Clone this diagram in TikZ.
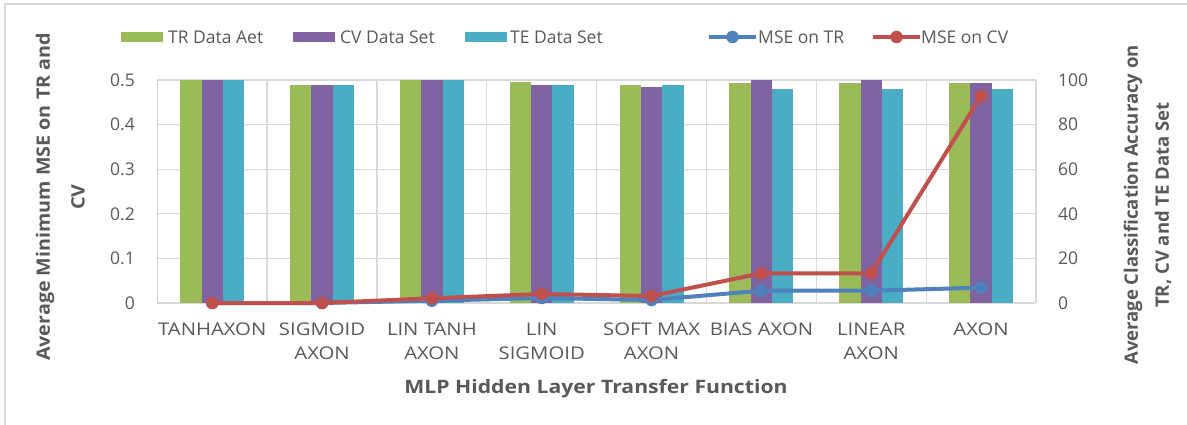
\documentclass[tikz,border=0pt]{standalone}
\usepackage{fontspec}
\setmainfont{Open Sans}
\usetikzlibrary{calc}
\definecolor{cgreen}{HTML}{9BBB59}
\definecolor{cpurple}{HTML}{8064A2}
\definecolor{cteal}{HTML}{4BACC6}
\definecolor{cblue}{HTML}{4F81BD}
\definecolor{cred}{HTML}{C0504D}
\definecolor{cgrid}{HTML}{D9D9D9}
\definecolor{ctext}{HTML}{595959}
\definecolor{cframe}{HTML}{D9D9D9}
\newcommand{\hstretch}[2]{\scalebox{#1}[1]{#2}}
\tikzset{
  gridline/.style={draw=cgrid, line width=1.3},
  txt/.style={text=ctext, inner sep=0pt, font=\fontsize{17.5}{21}\selectfont},
  ticklbl/.style={txt, font=\fontsize{17.5}{21}\selectfont},
  axtitle/.style={text=ctext, inner sep=0pt, font=\bfseries\fontsize{18.5}{22}\selectfont},
  barG/.style={fill=cgreen},
  barP/.style={fill=cpurple},
  barT/.style={fill=cteal},
  serTR/.style={draw=cblue, line width=4, line join=round},
  serCV/.style={draw=cred, line width=4, line join=round},
  dotTR/.style={circle, fill=cblue, inner sep=0pt, minimum size=12.5},
  dotCV/.style={circle, fill=cred, inner sep=0pt, minimum size=12.5},
}
\begin{document}
\begin{tikzpicture}[x=1pt,y=-1pt]
\useasboundingbox (0,0) rectangle (1187,425);
\fill[white] (0,0) rectangle (1187,425);
\draw[cframe, line width=2] (5,425) -- (5,4) -- (1187,4);
% grid
\foreach \k in {0,...,5} {
  \draw[gridline] (157.3,{303-\k*44.6}) -- (1036,{303-\k*44.6});
}
\foreach \i in {0,...,8} {
  \draw[gridline] ({157.3+\i*109.84},80) -- ({157.3+\i*109.84},303);
}
% bars
\foreach \i/\g/\p/\t in {1/100/100/100, 2/97.8/97.8/97.8, 3/100/100/100, 4/99.1/97.8/97.8,
  5/97.8/97.0/97.8, 6/98.8/100/95.8, 7/98.8/100/95.8, 8/98.8/98.8/95.8} {
  \pgfmathsetmacro{\cx}{157.3+(\i-0.5)*109.84}
  \fill[barG] ({\cx-32},303) rectangle ({\cx-10.7},{303-\g*2.23});
  \fill[barP] ({\cx-10.7},303) rectangle ({\cx+10.7},{303-\p*2.23});
  \fill[barT] ({\cx+10.7},303) rectangle ({\cx+32},{303-\t*2.23});
}
% series coordinates
\foreach \i/\b/\r in {1/303/303, 2/303/303, 3/300.7/298.3, 4/298/294, 5/300/296,
  6/290.7/273.3, 7/290.7/273.3, 8/287.7/96} {
  \coordinate (b\i) at ({157.3+(\i-0.5)*109.84},\b);
  \coordinate (r\i) at ({157.3+(\i-0.5)*109.84},\r);
}
\draw[serTR] (b1) -- (b2) -- (b3) -- (b4) -- (b5) -- (b6) -- (b7) -- (b8);
\foreach \i in {1,...,8} { \node[dotTR] (mb\i) at (b\i) {}; }
\draw[serCV] (r1) -- (r2) -- (r3) -- (r4) -- (r5) -- (r6) -- (r7) -- (r8);
\foreach \i in {1,...,8} { \node[dotCV] (mr\i) at (r\i) {}; }
% left ticks
\foreach \k/\l in {0/0, 1/0.1, 2/0.2, 3/0.3, 4/0.4, 5/0.5} {
  \node[ticklbl, anchor=east] (lt\k) at (135,{303-\k*44.6}) {\l};
}
% right ticks
\foreach \k/\l in {0/0, 1/20, 2/40, 3/60, 4/80, 5/100} {
  \node[ticklbl, anchor=west] (rt\k) at (1058,{303-\k*44.6}) {\l};
}
% category labels
\foreach \i/\a/\b in {1/TANHAXON/, 2/SIGMOID/AXON, 3/LIN TANH/AXON, 4/LIN/SIGMOID,
  5/SOFT MAX/AXON, 6/BIAS AXON/, 7/LINEAR/AXON, 8/AXON/} {
  \node[txt, anchor=base] (ca\i) at ({157.3+(\i-0.5)*109.84},335.5) {\hstretch{1.16}{\a}};
  \node[txt, anchor=base] (cb\i) at ({157.3+(\i-0.5)*109.84},359.5) {\hstretch{1.16}{\b}};
}
% axis titles
\node[axtitle, anchor=base] (xt) at (596,393) {\hstretch{1.145}{MLP Hidden Layer Transfer Function}};
\node[axtitle, rotate=90] (yl1) at (45,197) {\hstretch{1.065}{Average Minimum MSE on TR and}};
\node[axtitle, rotate=90] (yl2) at (78,197) {\hstretch{1.065}{CV}};
\node[axtitle, rotate=90] (yr1) at (1133,205) {Average Classification Accuracy on};
\node[axtitle, rotate=90] (yr2) at (1163,205) {TR, CV and TE Data Set};
% legend
\fill[barG] (121,32) rectangle (163,42);
\node[txt, anchor=west] (lg1) at (168,37) {TR Data Aet};
\fill[barP] (293,32) rectangle (335,42);
\node[txt, anchor=west] (lg2) at (340,37) {CV Data Set};
\fill[barT] (465,32) rectangle (507,42);
\node[txt, anchor=west] (lg3) at (510,37) {TE Data Set};
\coordinate (l4a) at (709,37); \coordinate (l4b) at (756,37);
\draw[serTR] (l4a) -- (l4b);
\node[dotTR] (l4m) at ($(l4a)!0.5!(l4b)$) {};
\node[txt, anchor=west] (lg4) at (758,37) {MSE on TR};
\coordinate (l5a) at (873,37); \coordinate (l5b) at (920,37);
\draw[serCV] (l5a) -- (l5b);
\node[dotCV] (l5m) at ($(l5a)!0.5!(l5b)$) {};
\node[txt, anchor=west] (lg5) at (921,37) {MSE on CV};
\end{tikzpicture}
\end{document}
